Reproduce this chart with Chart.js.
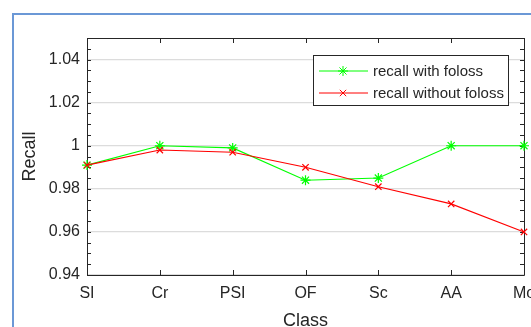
<!DOCTYPE html>
<html>
<head>
<meta charset="utf-8">
<script src="https://cdn.jsdelivr.net/npm/chart.js@4/dist/chart.umd.min.js"></script>
<style>
  html, body { margin: 0; padding: 0; background: #fff; overflow: hidden; width: 531px; height: 327px; }
  #wrap { position: absolute; left: 0; top: 0; width: 545px; height: 340px; }
  #frame { position: absolute; left: 12px; top: 13px; width: 560px; height: 360px;
           border-left: 2px solid #6b98d6; border-top: 2px solid #6b98d6; pointer-events: none; }
</style>
</head>
<body>
<div id="wrap"><canvas id="c" width="545" height="340"></canvas></div>
<div id="frame"></div>
<script>
// 数据
const classes = ['SI', 'Cr', 'PSI', 'OF', 'Sc', 'AA', 'Mo'];
const recallWith = [0.991, 1.0, 0.999, 0.984, 0.985, 1.0, 1.0];
const recallWithout = [0.991, 0.998, 0.997, 0.990, 0.981, 0.973, 0.960];
const yTicks = [0.94, 0.96, 0.98, 1.0, 1.02, 1.04];
const seriesNames = ['recall with foloss', 'recall without foloss'];
const yMin = 0.94, yMax = 1.05, yMinorStep = 0.005;

const textColor = '#262626';
const fontFamily = '"Liberation Sans", Arial, sans-serif';

// MATLAB 风格的边框、内向刻度和图例
const matlabBox = {
  id: 'matlabBox',
  beforeDatasetsDraw(chart) {
    const ctx = chart.ctx;
    const a = chart.chartArea;
    const x = chart.scales.x, y = chart.scales.y;
    ctx.save();
    ctx.strokeStyle = textColor;
    ctx.lineWidth = 1;
    ctx.beginPath();
    // 四周边框
    ctx.rect(Math.round(a.left) + 0.5, Math.round(a.top) + 0.5,
             Math.round(a.right - a.left), Math.round(a.bottom - a.top));
    // x 主刻度（上下）
    classes.forEach((c, i) => {
      const px = Math.round(x.getPixelForValue(i)) + 0.5;
      ctx.moveTo(px, a.bottom); ctx.lineTo(px, a.bottom - 5);
      ctx.moveTo(px, a.top); ctx.lineTo(px, a.top + 5);
    });
    // y 次刻度（左右）
    for (let v = yMin; v <= yMax + 1e-9; v += yMinorStep) {
      const py = Math.round(y.getPixelForValue(v)) + 0.5;
      ctx.moveTo(a.left, py); ctx.lineTo(a.left + 4, py);
      ctx.moveTo(a.right, py); ctx.lineTo(a.right - 4, py);
    }
    ctx.stroke();
    ctx.restore();
  },
  afterDraw(chart) {
    const ctx = chart.ctx;
    const a = chart.chartArea;
    const bx = a.right - 211, by = a.top + 17, bw = 195, bh = 50;
    ctx.save();
    ctx.fillStyle = '#fff';
    ctx.fillRect(bx, by, bw, bh);
    ctx.strokeStyle = textColor;
    ctx.lineWidth = 1;
    ctx.strokeRect(Math.round(bx) + 0.5, Math.round(by) + 0.5, bw, bh);
    chart.data.datasets.forEach((ds, i) => {
      const ry = by + 16 + i * 22;
      ctx.strokeStyle = ds.borderColor;
      ctx.beginPath();
      ctx.moveTo(bx + 6, ry); ctx.lineTo(bx + 55, ry);
      ctx.stroke();
      Chart.helpers.drawPoint(ctx, {
        pointStyle: ds.pointStyle, radius: ds.pointRadius, borderWidth: 1, rotation: 0
      }, bx + 30, ry);
      ctx.fillStyle = textColor;
      ctx.font = '15px ' + fontFamily;
      ctx.textBaseline = 'middle';
      ctx.fillText(seriesNames[i], bx + 60, ry + 1);
    });
    ctx.restore();
  }
};

new Chart(document.getElementById('c'), {
  type: 'line',
  data: {
    labels: classes,
    datasets: [{
      label: seriesNames[0],
      data: recallWith,
      borderColor: '#00ff00',
      backgroundColor: '#00ff00',
      pointStyle: 'star',
      pointRadius: 5,
      pointBorderWidth: 1.2,
      borderWidth: 1.1,
      tension: 0,
      clip: false,
      order: 1
    }, {
      label: seriesNames[1],
      data: recallWithout,
      borderColor: '#ff0000',
      backgroundColor: '#ff0000',
      pointStyle: 'crossRot',
      pointRadius: 4.5,
      pointBorderWidth: 1.2,
      borderWidth: 1.1,
      tension: 0,
      clip: false,
      order: 0
    }]
  },
  options: {
    responsive: false,
    animation: false,
    layout: { padding: { top: 38, right: 21, bottom: 0, left: 0 } },
    plugins: { legend: { display: false }, title: { display: false }, tooltip: { enabled: false } },
    scales: {
      x: {
        offset: false,
        grid: { display: false, drawTicks: false },
        border: { display: false },
        ticks: { color: textColor, padding: 9, maxRotation: 0, autoSkip: false,
                 font: { family: fontFamily, size: 16 } },
        title: { display: true, text: 'Class', color: textColor,
                 font: { family: fontFamily, size: 18 }, padding: { top: 0, bottom: 8 } },
        afterFit(s) { s.height = 65; }
      },
      y: {
        min: yMin,
        max: yMax,
        afterBuildTicks(s) { s.ticks = yTicks.map(v => ({ value: v })); },
        grid: { color: '#dcdcdc', lineWidth: 1.2, drawTicks: false },
        border: { display: false },
        ticks: { color: textColor, padding: 7,
                 font: { family: fontFamily, size: 16 },
                 callback: v => String(parseFloat(v.toFixed(3))) },
        title: { display: true, text: 'Recall', color: textColor,
                 font: { family: fontFamily, size: 18 }, padding: { top: 19, bottom: 0 } },
        afterFit(s) { s.width = 87; }
      }
    }
  },
  plugins: [matlabBox]
});
</script>
</body>
</html>
